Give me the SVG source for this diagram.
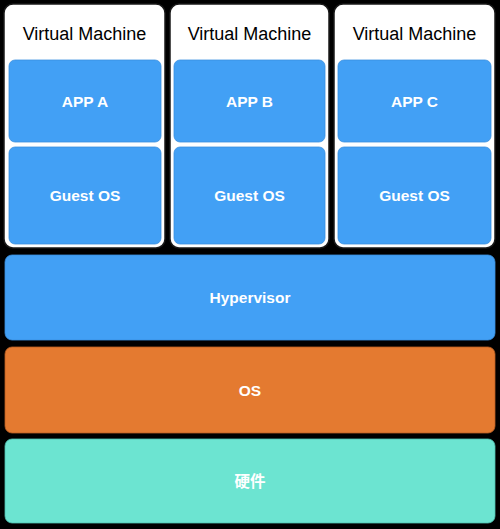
<svg xmlns="http://www.w3.org/2000/svg" width="500" height="529" viewBox="0 0 500 529">
<style>
.vm{fill:#ffffff;stroke:#1a1a1a;stroke-width:1.5}
.blue{fill:#42a0f5;stroke:#3a8fe0;stroke-width:0.8}
.orange{fill:#e47a30;stroke:#b85e22;stroke-width:0.8}
.teal{fill:#6ce4d1;stroke:#4fbfae;stroke-width:0.8}
.title{font-family:"Liberation Sans",Arial,Helvetica,sans-serif;font-size:18px;fill:#000;text-anchor:middle}
.lbl{font-family:"Liberation Sans",Arial,Helvetica,"Noto Sans CJK SC",sans-serif;font-size:15.5px;font-weight:bold;fill:#fff;text-anchor:middle}
</style>
<rect x="0" y="0" width="500" height="529" fill="#000"/>
<g id="vm1">
<rect class="vm" x="4" y="4" width="161" height="244" rx="9"/>
<text class="title" x="84.5" y="39.5">Virtual Machine</text>
<g id="appA"><rect class="blue" x="9" y="60" width="152" height="82" rx="6"/><text class="lbl" x="85" y="106.5">APP A</text></g>
<g id="guest1"><rect class="blue" x="9" y="147" width="152" height="97" rx="6"/><text class="lbl" x="85" y="201">Guest OS</text></g>
</g>
<g id="vm2">
<rect class="vm" x="170" y="4" width="159" height="244" rx="9"/>
<text class="title" x="249.5" y="39.5">Virtual Machine</text>
<g id="appB"><rect class="blue" x="174" y="60" width="151" height="82" rx="6"/><text class="lbl" x="249.5" y="106.5">APP B</text></g>
<g id="guest2"><rect class="blue" x="174" y="147" width="151" height="97" rx="6"/><text class="lbl" x="249.5" y="201">Guest OS</text></g>
</g>
<g id="vm3">
<rect class="vm" x="334" y="4" width="161" height="244" rx="9"/>
<text class="title" x="414.5" y="39.5">Virtual Machine</text>
<g id="appC"><rect class="blue" x="338" y="60" width="153" height="82" rx="6"/><text class="lbl" x="414.5" y="106.5">APP C</text></g>
<g id="guest3"><rect class="blue" x="338" y="147" width="153" height="97" rx="6"/><text class="lbl" x="414.5" y="201">Guest OS</text></g>
</g>
<g id="hypervisor">
<rect class="blue" x="5" y="255" width="490" height="85" rx="7"/>
<text class="lbl" x="250" y="303">Hypervisor</text>
</g>
<g id="os">
<rect class="orange" x="5" y="347" width="490" height="86" rx="7"/>
<text class="lbl" x="250" y="395.5">OS</text>
</g>
<g id="hardware">
<rect class="teal" x="5" y="439" width="490" height="84" rx="7"/>
<text class="lbl" x="250" y="486.5">硬件</text>
</g>
<g id="connectors"></g>
</svg>
